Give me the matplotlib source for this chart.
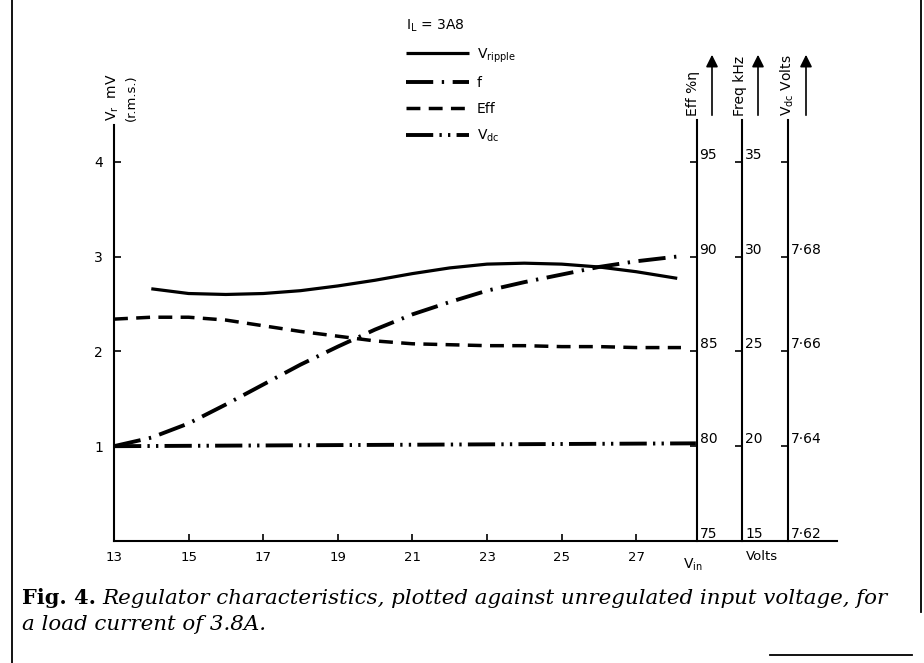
import matplotlib
matplotlib.use('Agg')
import matplotlib.pyplot as plt
from matplotlib.lines import Line2D

plt.rcParams['font.family'] = 'DejaVu Sans'
plt.rcParams['mathtext.fontset'] = 'dejavusans'

W, H = 924, 663


def fx(px):
    return px / W


def fy(py):
    return 1 - py / H


# Ripple voltage (mV r.m.s.)
ripple_vin = [14, 15, 16, 17, 18, 19, 20, 21, 22, 23, 24, 25, 26, 27, 28.1]
ripple_mv = [2.66, 2.61, 2.60, 2.61, 2.64, 2.69, 2.75, 2.82, 2.88, 2.92,
             2.93, 2.92, 2.89, 2.84, 2.77]

# Switching frequency (kHz)
freq_vin = [13, 14, 15, 16, 17, 18, 19, 20, 21, 22, 23, 24, 25, 26, 27, 28.1]
freq_khz = [20.0, 20.45, 21.2, 22.2, 23.25, 24.3, 25.25, 26.15, 26.95, 27.6,
            28.2, 28.65, 29.05, 29.45, 29.75, 30.0]

# Efficiency (%)
eff_vin = [13, 14, 15, 16, 17, 18, 19, 20, 21, 22, 23, 24, 25, 26, 27, 28.2]
eff_pct = [86.7, 86.8, 86.8, 86.65, 86.35, 86.05, 85.8, 85.55, 85.4, 85.35,
           85.3, 85.3, 85.25, 85.25, 85.2, 85.2]

# Output voltage (V)
vdc_vin = [13, 28.6]
vdc_v = [7.6400, 7.6406]

vin_ticks = [13, 15, 17, 19, 21, 23, 25, 27]
vr_ticks = [1, 2, 3, 4]
eff_ticks = [75, 80, 85, 90, 95]
freq_ticks = [15, 20, 25, 30, 35]
vdc_ticks = [7.62, 7.64, 7.66, 7.68, 7.70]
vdc_labels = ['7·62', '7·64', '7·66', '7·68', '']

YTOP = 4.44
fig = plt.figure(figsize=(W / 100, H / 100), dpi=100)
ax = fig.add_axes([fx(114), fy(541), (837 - 114) / W, (541 - 120) / H])
ax.set_xlim(13, 13 + (837 - 114) / 37.3)
ax.set_ylim(0, YTOP)
for s in ['top', 'right']:
    ax.spines[s].set_visible(False)
ax.spines['left'].set_bounds(0, 4.39)
ax.spines['left'].set_linewidth(1.5)
ax.spines['bottom'].set_linewidth(1.5)
ax.set_xticks(vin_ticks)
ax.set_yticks(vr_ticks)
ax.tick_params(direction='in', length=5, width=1.2, labelsize=9.5, pad=7)
ax.tick_params(axis='y', pad=8, labelsize=10)

line_kw = dict(color='black', dash_capstyle='butt', solid_capstyle='butt')
l_rip, = ax.plot(ripple_vin, ripple_mv, lw=2.3, **line_kw)


def right_axis(pos, lo, ticks, labels):
    a = ax.twinx()
    a.set_ylim(lo, lo + (ticks[1] - ticks[0]) * YTOP)
    for s in ['top', 'left', 'bottom']:
        a.spines[s].set_visible(False)
    a.spines['right'].set_position(('axes', pos))
    a.spines['right'].set_linewidth(1.5)
    a.set_yticks(ticks)
    a.set_yticklabels(labels)
    a.tick_params(direction='in', length=5, width=1.2, labelsize=10, pad=2)
    for lbl in a.get_yticklabels():
        lbl.set_va('bottom')
    return a


ax_e = right_axis(0.806, 75, eff_ticks, [str(t) for t in eff_ticks])
ax_f = right_axis(0.869, 15, freq_ticks, [str(t) for t in freq_ticks])
ax_v = right_axis(0.932, 7.62, vdc_ticks, vdc_labels)

l_f, = ax_f.plot(freq_vin, freq_khz, lw=2.8, ls=(0, (7, 2.2, 0.6, 2.2)), **line_kw)
l_e, = ax_e.plot(eff_vin, eff_pct, lw=2.5, ls=(0, (4, 2.4)), **line_kw)
l_v, = ax_v.plot(vdc_vin, vdc_v, lw=2.8,
                 ls=(0, (7, 1.6, 0.6, 1.6, 0.6, 1.6)), **line_kw)

leg = ax_v.legend([l_rip, l_f, l_e, l_v],
                  [r'$\mathrm{V_{ripple}}$', 'f', 'Eff', r'$\mathrm{V_{dc}}$'],
                  title=r'$\mathrm{I_L}$ = 3A8', alignment='left',
                  loc='upper left', bbox_to_anchor=(fx(406), fy(18)),
                  bbox_transform=fig.transFigure, frameon=False,
                  fontsize=10, title_fontsize=10, handlelength=4.5,
                  handletextpad=0.6, labelspacing=0.85, borderpad=0,
                  borderaxespad=0)

# axis captions
fig.text(fx(693), fy(565), r'$\mathrm{V_{in}}$', ha='center', va='center', fontsize=10)
fig.text(fx(762), fy(557), 'Volts', ha='center', va='center', fontsize=9.5)
fig.text(fx(113), fy(121), r'$\mathrm{V_r}$  mV', rotation=90, ha='center',
         va='bottom', fontsize=10)
fig.text(fx(131), fy(121), '(r.m.s.)', rotation=90, ha='center',
         va='bottom', fontsize=9.5)

for px, label in [(693, 'Eff %η'), (740, 'Freq kHz'), (787, r'$\mathrm{V_{dc}}$ Volts')]:
    fig.text(fx(px), fy(116), label, rotation=90, ha='center', va='bottom', fontsize=10)
for px in [712, 758, 806]:
    fig.add_artist(matplotlib.patches.FancyArrowPatch(
        (fx(px), fy(118)), (fx(px), fy(52)), transform=fig.transFigure,
        arrowstyle='-|>', mutation_scale=18, lw=1.2, color='black'))

# frame pieces of the printed page
fig.add_artist(Line2D([fx(12), fx(12)], [0, 1], color='black', lw=1.3))
fig.add_artist(Line2D([fx(921), fx(921)], [fy(612), 1], color='black', lw=1.3))
fig.add_artist(Line2D([fx(770), fx(912)], [fy(655), fy(655)], color='black', lw=1.3))

# caption
cap = fig.text(fx(22), fy(598), 'Fig. 4.', fontsize=15, weight='bold',
               family='DejaVu Serif', va='center')
fig.canvas.draw()
bb = cap.get_window_extent()
fig.text(bb.x1 / W + fx(6), fy(598),
         'Regulator characteristics, plotted against unregulated input voltage, for',
         fontsize=15.4, style='italic', family='DejaVu Serif', va='center')
fig.text(fx(22), fy(624), 'a load current of 3.8A.', fontsize=15.4,
         style='italic', family='DejaVu Serif', va='center')

fig.savefig('out.png', dpi=100)
